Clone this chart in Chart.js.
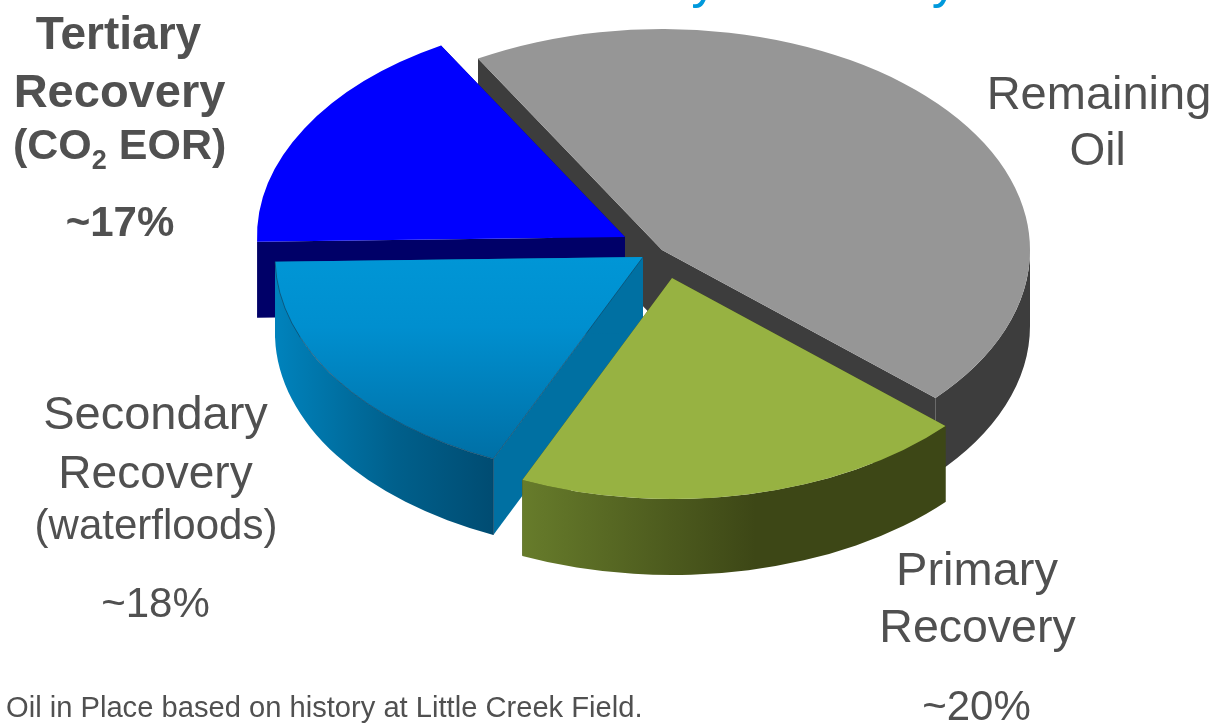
<!DOCTYPE html>
<html>
<head>
<meta charset="utf-8">
<style>
html,body{margin:0;padding:0;background:#fff;overflow:hidden}
canvas{display:block}
</style>
<script src="https://cdn.jsdelivr.net/npm/chart.js@4/dist/chart.umd.min.js"></script>
</head>
<body>
<canvas id="pie" width="1215" height="723"></canvas>
<script>
// Share of original oil in place by recovery stage
const stages = ['Remaining Oil', 'Primary Recovery', 'Secondary Recovery', 'Tertiary Recovery'];
const shares = [45, 20, 18, 17];

// Exploded-slice centres on the page, one per stage
const sliceCentreX = [662, 672, 643, 625];
const sliceCentreY = [250, 278, 257, 237];

// Stacking order: back of the pie first
const paintOrder = [0, 3, 2, 1];

const ellipseA = 368, ellipseB = 221, depth = 76;

const topColours = ['#969696', '#97b242', '#0092d2', '#0000ff'];
const cutColours = ['#3d3d3d', '#3d4716', '#0070a2', '#000068'];

const FONT = '"Liberation Sans", Arial, sans-serif';
const GREY = '#505050';

// [text, centre x, baseline y, size, bold]
const labelLines = [
  ['Tertiary', 118.5, 49, 46, true],
  ['Recovery', 119.5, 107, 47, true],
  ['~17%', 120, 236, 42, true],
  ['Remaining', 1099, 109, 47, false],
  ['Oil', 1097.5, 165, 46, false],
  ['Secondary', 155.5, 429, 47, false],
  ['Recovery', 155.5, 488, 46, false],
  ['(waterfloods)', 156, 539, 42, false],
  ['~18%', 155.5, 617, 42, false],
  ['Primary', 977, 585, 47, false],
  ['Recovery', 977.5, 642, 46.5, false],
  ['~20%', 976.5, 720, 42, false]
];

const exploded3d = {
  id: 'exploded3d',
  beforeDatasetDraw(chart) {
    const ctx = chart.ctx;
    const arcs = chart.getDatasetMeta(0).data;
    const R = arcs[0].outerRadius;
    const kx = ellipseA / R, ky = ellipseB / R;

    paintOrder.forEach(i => {
      const arc = arcs[i];
      const cx = sliceCentreX[i], cy = sliceCentreY[i];
      const s = arc.startAngle, e = arc.endAngle;
      const px = a => cx + ellipseA * Math.cos(a);
      const py = a => cy + ellipseB * Math.sin(a);

      // Straight cut faces, extruded downward
      ctx.fillStyle = cutColours[i];
      [s, e].forEach(a => {
        ctx.beginPath();
        ctx.moveTo(cx, cy);
        ctx.lineTo(px(a), py(a));
        ctx.lineTo(px(a), py(a) + depth);
        ctx.lineTo(cx, cy + depth);
        ctx.closePath();
        ctx.fill();
      });

      // Outer rim: only the part of the arc facing the viewer
      const twoPi = Math.PI * 2;
      const spans = [];
      for (let k = -1; k <= 1; k++) {
        const lo = Math.max(s, k * twoPi), hi = Math.min(e, k * twoPi + Math.PI);
        if (hi > lo) spans.push([lo, hi]);
      }
      spans.forEach(([lo, hi]) => {
        ctx.beginPath();
        ctx.ellipse(cx, cy, ellipseA, ellipseB, 0, lo, hi);
        ctx.ellipse(cx, cy + depth, ellipseA, ellipseB, 0, hi, lo, true);
        ctx.closePath();
        ctx.fillStyle = rimFill(ctx, i);
        ctx.fill();
      });

      // Top face drawn by the arc element itself, flattened into an ellipse
      ctx.save();
      ctx.translate(cx, cy);
      ctx.scale(kx, ky);
      ctx.translate(-arc.x, -arc.y);
      arc.options.backgroundColor = topFill(ctx, i, arc, ky);
      arc.draw(ctx);
      ctx.restore();

      // Fine edge between the top and the walls of the secondary slice
      if (i === 2) {
        ctx.strokeStyle = 'rgba(20,60,85,0.75)';
        ctx.lineWidth = 0.8;
        ctx.beginPath();
        ctx.moveTo(cx, cy);
        ctx.lineTo(px(s), py(s));
        ctx.lineTo(px(s), py(s) + depth);
        ctx.moveTo(px(s), py(s));
        ctx.ellipse(cx, cy, ellipseA, ellipseB, 0, s, e);
        ctx.stroke();
      }
    });
    return false;
  },
  afterDraw(chart) {
    const ctx = chart.ctx;
    ctx.save();
    ctx.textAlign = 'center';
    ctx.textBaseline = 'alphabetic';
    ctx.fillStyle = GREY;
    labelLines.forEach(([t, x, y, size, bold]) => {
      ctx.font = (bold ? 'bold ' : '') + size + 'px ' + FONT;
      ctx.fillText(t, x, y);
    });

    // Bold label with a subscript
    ctx.textAlign = 'left';
    ctx.font = 'bold 43px ' + FONT;
    ctx.fillText('(CO', 13, 159);
    let x = 13 + ctx.measureText('(CO').width;
    ctx.font = 'bold 27px ' + FONT;
    ctx.fillText('2', x, 169);
    x += ctx.measureText('2').width;
    ctx.font = 'bold 43px ' + FONT;
    ctx.fillText(' EOR)', x, 159);

    ctx.font = '29.15px ' + FONT;
    ctx.fillText('Oil in Place based on history at Little Creek Field.', 6, 717);

    // Heading runs off the top edge of the slide
    ctx.textAlign = 'center';
    ctx.font = '53px ' + FONT;
    ctx.fillStyle = '#0099dc';
    ctx.fillText('Recovery Efficiency', 726, -3);
    ctx.restore();
  }
};

function rimFill(ctx, i) {
  if (i === 2) {
    const g = ctx.createLinearGradient(274, 0, 493, 0);
    g.addColorStop(0, '#0083bd');
    g.addColorStop(0.55, '#00608c');
    g.addColorStop(1, '#004c72');
    return g;
  }
  if (i === 1) {
    const g = ctx.createLinearGradient(522, 0, 946, 0);
    g.addColorStop(0, '#677c2b');
    g.addColorStop(0.55, '#3d4716');
    g.addColorStop(1, '#3d4716');
    return g;
  }
  return cutColours[i];
}

function topFill(ctx, i, arc, ky) {
  if (i !== 2) return topColours[i];
  const g = ctx.createLinearGradient(0, arc.y, 0, arc.y + 200 / ky);
  g.addColorStop(0, '#0096d6');
  g.addColorStop(0.35, '#008fcf');
  g.addColorStop(1, '#0070a6');
  return g;
}

new Chart(document.getElementById('pie'), {
  type: 'pie',
  data: {
    labels: stages,
    datasets: [{ data: shares, backgroundColor: topColours, borderWidth: 0 }]
  },
  options: {
    responsive: false,
    animation: false,
    rotation: 330,
    plugins: { legend: { display: false }, tooltip: { enabled: false } }
  },
  plugins: [exploded3d]
});
</script>
</body>
</html>
